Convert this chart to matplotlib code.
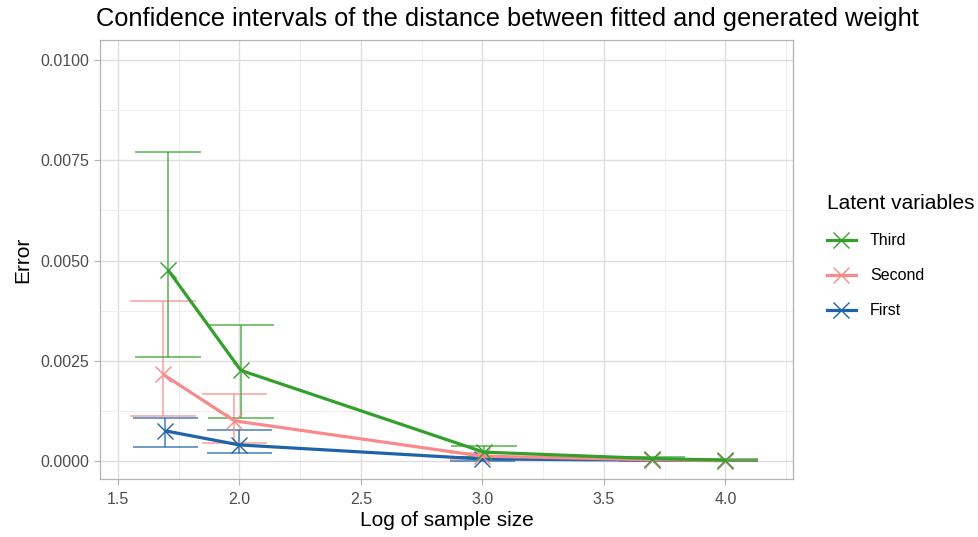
import numpy as np
import matplotlib
matplotlib.use("Agg")
import matplotlib.pyplot as plt
from matplotlib.lines import Line2D

plt.rcParams["font.family"] = ["Liberation Sans", "DejaVu Sans"]

series = ["First", "Second", "Third"]
colors = {"First": "#1f63a8", "Second": "#f88a8c", "Third": "#33a02c"}

# log10 of sample size (slightly dodged per series in the original)
first_x = [1.696, 2.0, 3.0, 3.699, 4.0]
second_x = [1.686, 1.98, 3.0, 3.699, 4.0]
third_x = [1.707, 2.006, 3.006, 3.699, 4.0]

# mean error and confidence bounds per series
first_mean = [0.00075, 0.00040, 0.00005, 0.00002, 0.00001]
first_low = [0.00036, 0.00019, 0.00001, 0.00000, 0.00000]
first_high = [0.00106, 0.00077, 0.00010, 0.00004, 0.00002]

second_mean = [0.00216, 0.00100, 0.00012, 0.00003, 0.00001]
second_low = [0.00112, 0.00046, 0.00005, 0.00001, 0.00000]
second_high = [0.00398, 0.00167, 0.00020, 0.00006, 0.00003]

third_mean = [0.00476, 0.00226, 0.00022, 0.00006, 0.00002]
third_low = [0.00260, 0.00108, 0.00010, 0.00002, 0.00001]
third_high = [0.00770, 0.00338, 0.00038, 0.00010, 0.00004]

data = {
    "First": (first_x, first_mean, first_low, first_high),
    "Second": (second_x, second_mean, second_low, second_high),
    "Third": (third_x, third_mean, third_low, third_high),
}

fig = plt.figure(figsize=(9.79, 5.37), dpi=100)
ax = fig.add_axes([0.102, 0.108, 0.708, 0.8175])

cap_half = 0.135
for name in series:
    x, mean, low, high = [np.array(v) for v in data[name]]
    c = colors[name]
    ax.vlines(x, low, high, color=c, lw=1.2, alpha=0.75, zorder=3)
    ax.hlines(low, x - cap_half, x + cap_half, color=c, lw=1.2, alpha=0.75, zorder=3)
    ax.hlines(high, x - cap_half, x + cap_half, color=c, lw=1.2, alpha=0.75, zorder=3)
for name in series:
    x, mean = data[name][0], data[name][1]
    ax.plot(x, mean, color=colors[name], lw=2.3, marker="x", markersize=11,
            markeredgewidth=1.0, zorder=4, solid_capstyle="butt")

ax.set_xlim(1.426, 4.278)
ax.set_ylim(-0.00045, 0.0105)
ax.set_xticks([1.5, 2.0, 2.5, 3.0, 3.5, 4.0])
ax.set_xticks([1.75, 2.25, 2.75, 3.25, 3.75, 4.25], minor=True)
ax.set_yticks([0, 0.0025, 0.005, 0.0075, 0.01])
ax.set_yticks([0.00125, 0.00375, 0.00625, 0.00875], minor=True)
ax.set_yticklabels(["0.0000", "0.0025", "0.0050", "0.0075", "0.0100"])
ax.grid(which="major", color="#dedede", lw=1.0, zorder=0)
ax.grid(which="minor", color="#eeeeee", lw=0.7, zorder=0)
ax.set_axisbelow(True)
for s in ax.spines.values():
    s.set_color("#b3b3b3")
    s.set_linewidth(0.9)
ax.tick_params(which="major", colors="#b3b3b3", labelcolor="#4d4d4d", labelsize=11.5, length=4)
ax.tick_params(axis="x", which="major", pad=5)
ax.tick_params(which="minor", length=0)

ax.set_xlabel("Log of sample size", fontsize=15, labelpad=3)
ax.set_ylabel("Error", fontsize=15, labelpad=6)
fig.text(0.098, 0.965, "Confidence intervals of the distance between fitted and generated weight",
         fontsize=18.3, ha="left", va="center")

handles = [Line2D([], [], color=colors[n], lw=2.3, marker="x", markersize=11, markeredgewidth=1.0)
           for n in ["Third", "Second", "First"]]
leg = fig.legend(handles, ["Third", "Second", "First"], title="Latent variables",
                 loc="upper left", bbox_to_anchor=(0.83, 0.665), frameon=False,
                 fontsize=11.5, title_fontsize=15, handlelength=1.8, labelspacing=1.25,
                 handletextpad=0.9)
leg._legend_box.align = "left"

fig.savefig("out.png", dpi=100)
